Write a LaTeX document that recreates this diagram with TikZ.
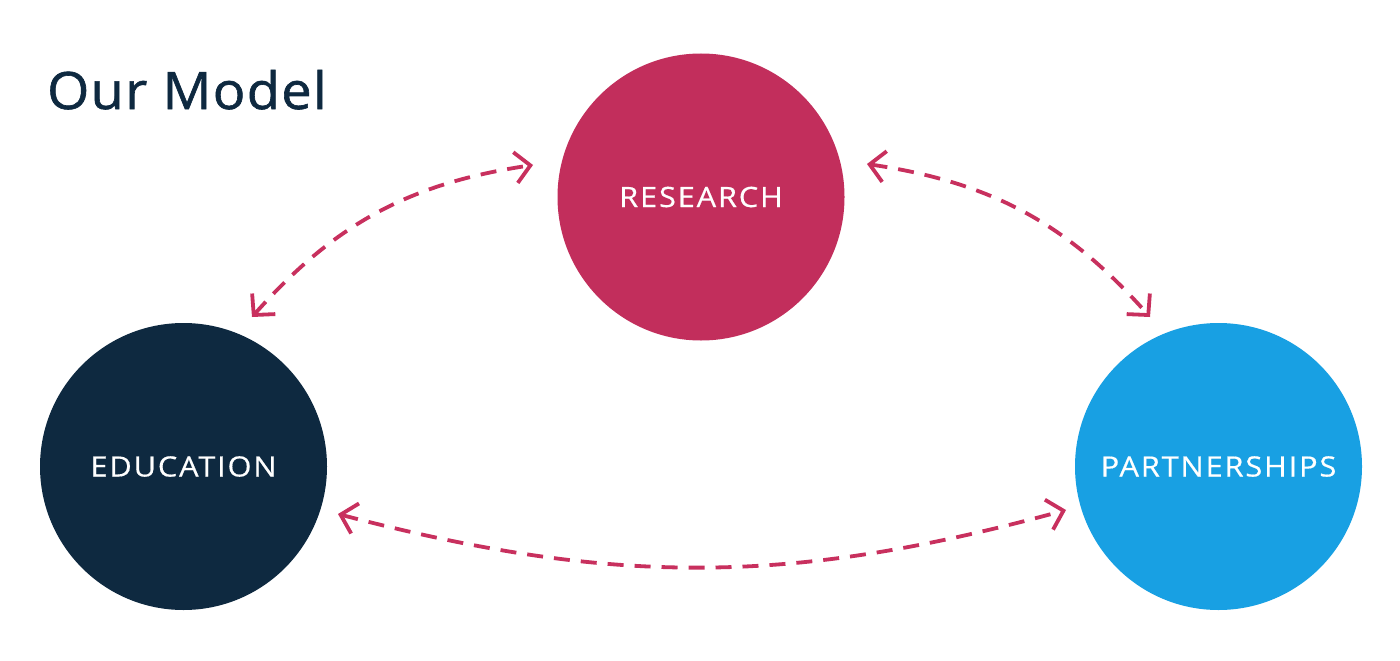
\documentclass[tikz,border=0pt]{standalone}
\usepackage{fontspec}
\setmainfont{Open Sans}
\newfontfamily\labelfont{Open Sans}[LetterSpace=6.5,FakeStretch=1.1,FakeBold=0.5]
\newfontfamily\titlefont{Open Sans}[LetterSpace=2.6,FakeStretch=1.05,FakeBold=1.2]
\usetikzlibrary{arrows.meta}
\definecolor{crim}{HTML}{C22E5C}
\definecolor{arrowc}{HTML}{C8305E}
\definecolor{navy}{HTML}{0E2940}
\definecolor{sky}{HTML}{18A0E3}
\tikzset{
  blob/.style={circle, minimum size=287pt, inner sep=0pt, text=white,
    font=\labelfont\fontsize{28}{28}\selectfont},
  link/.style={draw=arrowc, line width=3.8pt, dash pattern=on 16pt off 11pt,
    {Straight Barb[length=15pt,width=31pt,line width=3.8pt]}-{Straight Barb[length=15pt,width=31pt,line width=3.8pt]}}
}
\begin{document}
\begin{tikzpicture}[x=1pt,y=-1pt]
\useasboundingbox[fill=white] (0,0) rectangle (1400,661);
\node[anchor=base west, text=navy, inner sep=0pt, font=\titlefont\fontsize{51.5}{52}\selectfont] (title) at (47,109) {Our Model};
\node[blob, fill=crim] (res) at (701,197) {RESEARCH};
\node[blob, fill=navy] (edu) at (183.5,466.5) {EDUCATION};
\node[blob, fill=sky] (par) at (1218.5,466.5) {PARTNERSHIPS};
\coordinate (a1) at (252,317);
\coordinate (a2) at (533,165);
\coordinate (b1) at (867,164);
\coordinate (b2) at (1150,317);
\coordinate (c1) at (338,514);
\coordinate (c2) at (1066,510);
\draw[link] (a1) to[bend left=20] (a2);
\draw[link] (b1) to[bend left=20] (b2);
\draw[link] (c1) to[bend right=15] (c2);
\end{tikzpicture}
\end{document}
